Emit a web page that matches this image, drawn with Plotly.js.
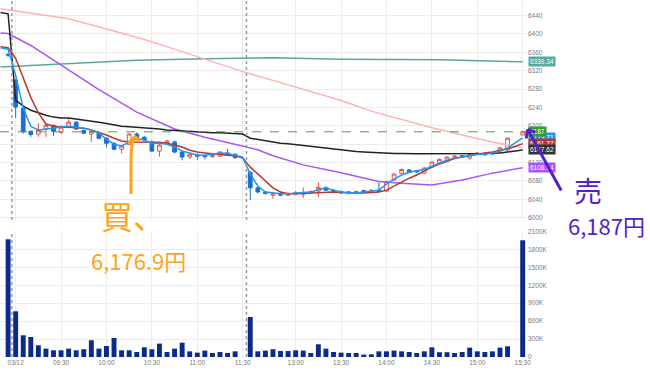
<!DOCTYPE html>
<html><head><meta charset="utf-8">
<script src="https://cdn.plot.ly/plotly-3.0.1.min.js"></script>
<style>html,body{margin:0;padding:0;background:#fff}#chart{width:650px;height:373px}</style>
</head><body><div id="chart"></div>
<script>
// ---- bar time slots (5-minute bars) ----
const times = [
"03/11 15:25","03/11 15:30",
"09:00","09:05","09:10","09:15","09:20","09:25","09:30","09:35","09:40","09:45","09:50","09:55",
"10:00","10:05","10:10","10:15","10:20","10:25","10:30","10:35","10:40","10:45","10:50","10:55",
"11:00","11:05","11:10","11:15","11:20","11:25","11:30",
"12:30","12:35","12:40","12:45","12:50","12:55",
"13:00","13:05","13:10","13:15","13:20","13:25","13:30","13:35","13:40","13:45","13:50","13:55",
"14:00","14:05","14:10","14:15","14:20","14:25","14:30","14:35","14:40","14:45","14:50","14:55",
"15:00","15:05","15:10","15:15","15:20","15:25","15:30"];

const open = [null,6356,6299,6238,6188,6182,6193,6201,6186,6197,6208,6190,6182,6184,6173,6162,6149,6160,6182,6175,6165,6145,6163,6165,6143,6132,6137,6135,6133,6134,6141,6138,null,
6099,6065,6056,6049,6053,6049,6051,6051,6054,6058,6065,6060,6057,6056,6054,6059,6056,6060,6058,6082,6097,6104,6102,6097,6110,6119,6123,6132,6135,6130,6138,6140,6141,6145,6147,null,6180];
const high = [null,6358,6302,6240,6190,6206,6205,6203,6201,6216,6210,6192,6190,6186,6175,6164,6158,6184,6186,6178,6168,6160,6170,6168,6145,6140,6140,6138,6139,6145,6150,6140,null,
6101,6067,6058,6056,6056,6055,6058,6066,6060,6077,6068,6062,6059,6058,6059,6061,6062,6077,6080,6097,6107,6106,6104,6110,6123,6129,6134,6136,6137,6140,6143,6142,6143,6154,6175,null,6187];
const low = [null,6350,6217,6183,6176,6176,6176,6178,6182,6195,6191,6182,6165,6171,6153,6147,6140,6158,6171,6166,6143,6133,6161,6140,6125,6128,6126,6127,6130,6132,6134,6128,null,
6038,6053,6050,6041,6047,6047,6049,6043,6052,6045,6058,6055,6052,6051,6052,6054,6054,6055,6056,6080,6095,6097,6097,6095,6108,6117,6121,6130,6131,6126,6136,6135,6137,6143,6145,null,6180];
const close = [null,6354,6241,6187,6181,6192,6201,6188,6197,6208,6193,6184,6188,6173,6162,6149,6156,6182,6173,6169,6145,6158,6167,6143,6132,6138,6134,6133,6136,6143,6136,6131,null,
6065,6056,6053,6053,6049,6053,6055,6055,6057,6066,6060,6058,6054,6054,6057,6056,6060,6057,6078,6095,6105,6099,6100,6108,6121,6127,6132,6134,6133,6138,6141,6137,6139,6152,6173,null,6187];
// volume in thousands of shares
const volumeK = [null,1970,765,363,335,196,140,112,112,140,112,130,280,140,184,318,112,112,84,162,130,224,84,140,240,95,73,107,67,84,67,95,null,
670,95,107,130,100,100,112,107,67,213,140,84,73,67,67,40,45,95,95,107,95,84,67,95,162,80,80,67,84,157,95,84,95,157,179,null,1953];

// moving-average style lines (one value per slot)
const emaShort = [6370,6367,6310,6238,6199,6191,6193,6195,6197,6199,6197,6195,6191,6184,6171,6160,6156,6165,6173,6169,6162,6162,6160,6154,6145,6141,6136,6136,6138,6141,6140,6136,6132,6095,6069,6056,6054,6052,6052,6054,6055,6056,6060,6065,6060,6056,6055,6054,6056,6058,6060,6073,6084,6093,6099,6102,6105,6112,6119,6125,6130,6132,6135,6138,6138,6141,6145,6152,6162,6173.71];
const emaMid = [6372,6370,6347,6304,6262,6228,6204,6199,6197,6197,6196,6195,6191,6186,6180,6173,6167,6165,6165,6165,6165,6164,6162,6158,6154,6147,6143,6141,6139,6137,6136,6135,6130,6110,6095,6080,6065,6056,6052,6052,6053,6054,6055,6056,6056,6055,6054,6054,6054,6055,6056,6060,6069,6078,6086,6093,6102,6110,6117,6123,6129,6132,6135,6139,6141,6143,6146,6150,6155,6161.27];
const vwap = [6447,6444,6256,6243,6234,6228,6223,6219,6217,6217,6215,6212,6210,6208,6205,6202,6199,6198,6197,6196,6195,6193,6191,6190,6189,6187,6186,6186,6185,6185,6184,6184,6182,6173,6170,6167,6165,6162,6161,6159,6157,6155,6154,6152,6150,6148,6146,6144,6143,6142,6141,6141,6140,6140,6139,6139,6139,6139,6139,6139,6139,6139,6139,6140,6140,6141,6141,6143,6146,6147.62];
// slower lines, read at selected slots
const maLongAt = ["03/11 15:25","03/11 15:30","09:10","09:35","09:55","10:20","10:45","11:05","11:25","12:35","12:45","13:05","13:30","13:55","14:10","14:30","14:50","15:10","15:30"];
const maLong = [6402,6401,6375,6322,6279,6230,6193,6175,6160,6148,6135,6115,6098,6079,6075,6071,6082,6097,6108.94];
const maPinkAt = ["03/11 15:25","09:35","10:00","10:25","10:45","11:10","11:30","12:45","13:05","13:30","13:50","14:10","14:30","14:50","15:10","15:30"];
const maPink = [6455,6433,6411,6388,6367,6340,6318,6299,6280,6255,6232,6214,6196,6180,6165,6152];
const maTealAt = ["03/11 15:25","09:35","10:20","11:05","12:45","13:30","14:35","14:55","15:30"];
const maTeal = [6328,6336,6343,6346,6348,6345,6344,6342,6339.34];

const tickTimes = ["09:00","09:30","10:00","10:30","11:00","11:30","13:00","13:30","14:00","14:30","15:00","15:30"];
const tickText = ["03/12","09:30","10:00","10:30","11:00","11:30","13:00","13:30","14:00","14:30","15:00","15:30"];
const volTicks = [0,300,600,900,1200,1500,1800,2100];
const sessionStarts = ["09:00","12:30"];

const buyText = "6,176.9円", sellText = "6,187円";

// ---------- build ----------
const W=650,H=373,M={l:0,r:123,t:0,b:16};
const PW=W-M.l-M.r, PH=H-M.t-M.b;
const px=x=>(x-M.l)/PW, py=y=>1-(y-M.t)/PH;
const P=(pts)=>pts.map((p,i)=>(i?'L':'M')+px(p[0]).toFixed(4)+','+py(p[1]).toFixed(4)).join(' ');
const idx=t=>times.indexOf(t);
const kAll=times.map((t,i)=>i);

const cx=[],co=[],ch=[],cl=[],cc=[];
open.forEach((o,i)=>{if(o!==null){cx.push(i);co.push(o);ch.push(high[i]);cl.push(low[i]);cc.push(close[i]);}});
const vx=[],vy=[];
volumeK.forEach((v,i)=>{if(v!==null){vx.push(i);vy.push(v*1000);}});

const C={blue:'#2196f3',red:'#b5382b',black:'#222222',purple:'#a855f7',pink:'#ffb3b3',teal:'#5aa7a0',green:'#2e9d3a',orange:'#ffa31a',hand:'#5322d0'};
const line=(x,y,color)=>({type:'scatter',mode:'lines',x:x,y:y,xaxis:'x',yaxis:'y2',line:{color:color,width:1.5},hoverinfo:'skip'});

const data=[
 {type:'bar',x:vx,y:vy,xaxis:'x',yaxis:'y',marker:{color:'#0c2a8c'},width:0.65,hoverinfo:'skip'},
 {type:'candlestick',x:cx,open:co,high:ch,low:cl,close:cc,xaxis:'x',yaxis:'y2',whiskerwidth:0,
  increasing:{line:{color:'#e0524f',width:1},fillcolor:'#ffffff'},
  decreasing:{line:{color:'#1a6ed8',width:1},fillcolor:'#1a6ed8'}},
 line(maTealAt.map(idx),maTeal,C.teal),
 line(maPinkAt.map(idx),maPink,C.pink),
 line(maLongAt.map(idx),maLong,C.purple),
 line(kAll,vwap,C.black),
 line(kAll,emaMid,C.red),
 line(kAll,emaShort,C.blue)
];

const last=close[close.length-1];
const shapes=[
 {type:'line',xref:'paper',x0:0,x1:1,yref:'y2',y0:last,y1:last,line:{color:'#3aa845',width:1,dash:'dash'}}
];
sessionStarts.forEach(t=>{const s=idx(t)-0.5;
 [[0.3838,1],[0,0.3529]].forEach(d=>shapes.push({type:'line',xref:'x',x0:s,x1:s,yref:'paper',y0:d[0],y1:d[1],line:{color:'#9a9a9a',width:1.5,dash:'dot'}}));
});
// hand-drawn orange arrow
shapes.push({type:'path',xref:'paper',yref:'paper',path:'M'+px(131)+','+py(194)+' L'+px(131)+','+py(160)+' Q'+px(131)+','+py(142)+' '+px(135)+','+py(137),line:{color:C.orange,width:3}});
shapes.push({type:'path',xref:'paper',yref:'paper',path:P([[128,143],[135,136.5],[140,141]]),line:{color:C.orange,width:3}});

const fmt=v=>(Math.round(v*100)%100===0)?String(Math.round(v)):v.toFixed(2);
const tag=(v,c)=>({xref:'paper',x:1,xanchor:'left',xshift:1,yref:'y2',y:v,yanchor:'middle',text:fmt(v),showarrow:false,bgcolor:c,borderpad:1,font:{size:6.5,color:'#ffffff'}});
// hand-drawn purple arrow, drawn as annotation strokes so it sits above the price tags
const stroke=(tip,tail)=>({xref:'paper',yref:'paper',x:px(tip[0]),y:py(tip[1]),ax:tail[0]-tip[0],ay:tail[1]-tip[1],text:'',showarrow:true,arrowhead:0,arrowwidth:3,arrowcolor:C.hand,standoff:0,startstandoff:0});
const annotations=[
 tag(maTeal[maTeal.length-1],C.teal),
 tag(maLong[maLong.length-1],C.purple),
 tag(emaShort[emaShort.length-1],C.blue),
 tag(emaMid[emaMid.length-1],C.red),
 tag(vwap[vwap.length-1],'#333333'),
 tag(last,C.green),
 {xref:'paper',yref:'paper',x:px(99),y:py(215),xanchor:'left',yanchor:'middle',text:'買、',showarrow:false,font:{family:'Noto Sans CJK JP',size:32,color:C.orange}},
 {xref:'paper',yref:'paper',x:px(89),y:py(260),xanchor:'left',yanchor:'middle',text:buyText,showarrow:false,font:{family:'Noto Sans CJK JP',size:22,color:C.orange}},
 {xref:'paper',yref:'paper',x:px(572),y:py(190),xanchor:'left',yanchor:'middle',text:'売',showarrow:false,font:{family:'Noto Sans CJK JP',size:28,color:C.hand}},
 {xref:'paper',yref:'paper',x:px(566),y:py(225),xanchor:'left',yanchor:'middle',text:sellText,showarrow:false,font:{family:'Noto Sans CJK JP',size:22,color:C.hand}},
 stroke([528,130],[562,192]),
 stroke([527.5,129.5],[526,140]),
 stroke([527.5,129.5],[537,133])
];

const tf={size:6.5,color:'#7a7a7a'};
const layout={
 width:W,height:H,margin:M,paper_bgcolor:'#ffffff',plot_bgcolor:'#ffffff',showlegend:false,
 font:{family:'Liberation Sans, Arial, sans-serif'},
 xaxis:{type:'linear',range:[-0.07,69.57],anchor:'y',tickvals:tickTimes.map(idx),ticktext:tickText,tickfont:tf,
        showgrid:true,gridcolor:'#ececec',zeroline:false,showline:false,ticks:'',rangeslider:{visible:false},fixedrange:true},
 yaxis:{domain:[0,0.3529],range:[0,2108000],side:'right',anchor:'x',tickvals:volTicks.map(v=>v*1000),
        ticktext:volTicks.map(v=>v?v+'K':'0'),tickfont:tf,gridcolor:'#ececec',zeroline:false,showline:false,ticks:''},
 yaxis2:{domain:[0.3838,1],range:[5995,6474],side:'right',anchor:'x',tick0:6000,dtick:40,tickfont:tf,
        gridcolor:'#ececec',zeroline:false,showline:false,ticks:''},
 shapes:shapes,annotations:annotations,hovermode:false
};
Plotly.newPlot('chart',data,layout,{staticPlot:true,displayModeBar:false});
</script></body></html>
